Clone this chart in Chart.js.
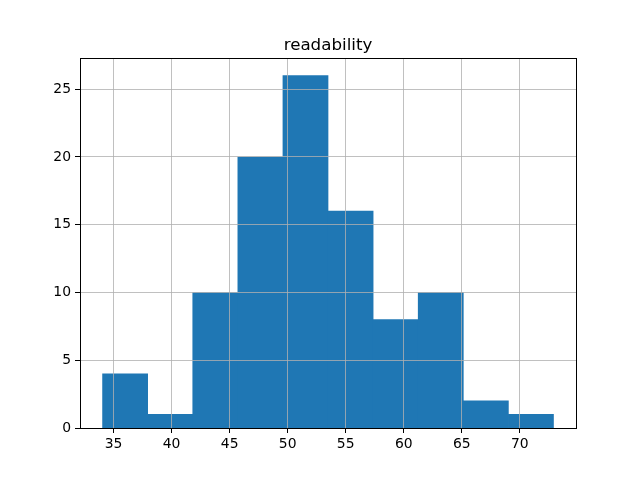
<!DOCTYPE html>
<html>
<head>
<meta charset="utf-8">
<script src="https://cdn.jsdelivr.net/npm/chart.js@4/dist/chart.umd.min.js"></script>
<style>
html,body{margin:0;padding:0;background:#fff;}
#wrap{width:640px;height:480px;}
</style>
</head>
<body>
<div id="wrap"><canvas id="c" width="640" height="480"></canvas></div>
<script>
const titleText = "readability";
const binEdges = [34.05, 37.94, 41.82, 45.71, 49.59, 53.48, 57.36, 61.25, 65.13, 69.02, 72.9];
const counts = [4, 1, 10, 20, 26, 16, 8, 10, 2, 1];
const xTickValues = [35, 40, 45, 50, 55, 60, 65, 70];
const yTickValues = [0, 5, 10, 15, 20, 25];

const span = binEdges[binEdges.length-1] - binEdges[0];
const xMin = binEdges[0] - 0.05*span;
const xMax = binEdges[binEdges.length-1] + 0.05*span;
const yMax = Math.max(...counts) * 1.05;

const points = counts.map((c, i) => ({x: (binEdges[i] + binEdges[i+1]) / 2, y: c}));

const frame = {
  id: 'frame',
  afterDraw(chart) {
    const {ctx, chartArea: a} = chart;
    ctx.save();
    ctx.strokeStyle = '#000';
    ctx.lineWidth = 1;
    ctx.strokeRect(Math.round(a.left)+0.5, Math.round(a.top)+0.5, Math.round(a.right-a.left), Math.round(a.bottom-a.top));
    ctx.restore();
  }
};

const font = {family: 'DejaVu Sans', size: 13.9};

new Chart(document.getElementById('c'), {
  type: 'bar',
  data: {
    datasets: [{
      label: titleText,
      data: points,
      backgroundColor: '#1f77b4',
      borderWidth: 0,
      barPercentage: 1.0,
      categoryPercentage: 1.0
    }]
  },
  options: {
    responsive: false,
    animation: false,
    devicePixelRatio: 1,
    layout: {padding: {top: 0, right: 64, left: 0, bottom: 0}},
    plugins: {
      legend: {display: false},
      tooltip: {enabled: false},
      title: {
        display: true,
        text: titleText,
        fullSize: false,
        color: '#000',
        font: {family: 'DejaVu Sans', size: 16.7, weight: 'normal'},
        padding: {top: 36, bottom: 2}
      }
    },
    scales: {
      x: {
        type: 'linear',
        min: xMin,
        max: xMax,
        offset: false,
        afterBuildTicks: s => { s.ticks = xTickValues.map(v => ({value: v})); },
        afterFit: s => { s.height = 52; },
        grid: {offset: false, color: '#b0b0b0', lineWidth: 0.8, z: 1, drawTicks: true, tickLength: 5, tickColor: '#000', tickWidth: 1},
        border: {display: false},
        ticks: {color: '#000', font: font, padding: 3, maxRotation: 0, autoSkip: false}
      },
      y: {
        type: 'linear',
        min: 0,
        max: yMax,
        afterBuildTicks: s => { s.ticks = yTickValues.map(v => ({value: v})); },
        afterFit: s => { s.width = 80; },
        grid: {color: '#b0b0b0', lineWidth: 0.8, z: 1, drawTicks: true, tickLength: 5, tickColor: '#000', tickWidth: 1},
        border: {display: false},
        ticks: {color: '#000', font: font, padding: 4, autoSkip: false}
      }
    }
  },
  plugins: [frame]
});
</script>
</body>
</html>
